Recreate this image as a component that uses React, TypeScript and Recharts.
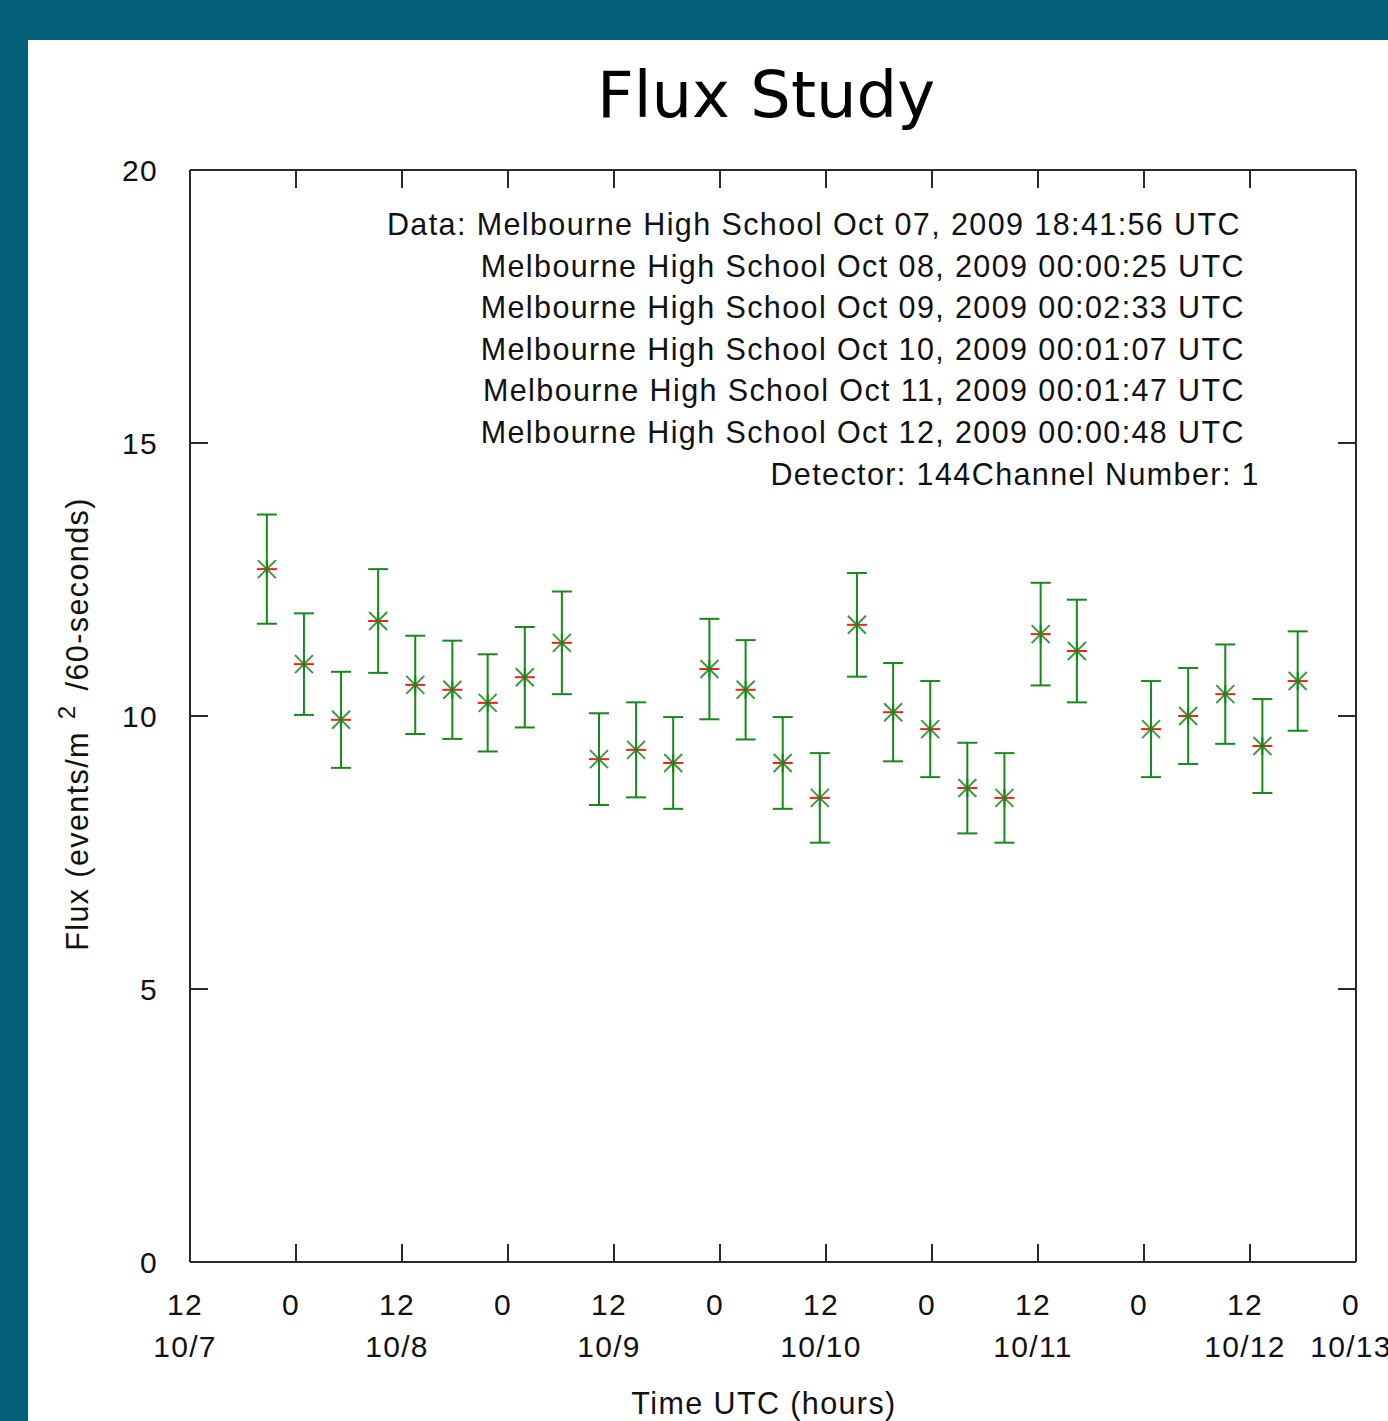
import React from 'react';
import { ComposedChart, Scatter, ErrorBar, XAxis, YAxis } from 'recharts';

// bin centres, hours after 10/7 12:00 UTC
const binHours = [
  8.7, 12.9, 17.1, 21.3, 25.5, 29.7, 33.7, 37.9, 42.1, 46.3, 50.5, 54.7, 58.8, 62.9,
  67.1, 71.3, 75.5, 79.6, 83.8, 88.0, 92.2, 96.3, 100.4, 108.8, 113.0, 117.2, 121.4, 125.4,
];
const fluxValues = [
  12.69, 10.95, 9.93, 11.74, 10.57, 10.48, 10.24, 10.71, 11.34, 9.21, 9.38, 9.14, 10.86, 10.48,
  9.14, 8.5, 11.67, 10.07, 9.76, 8.68, 8.5, 11.5, 11.19, 9.76, 10.0, 10.4, 9.45, 10.64,
];
const fluxErrors = [
  1.0, 0.93, 0.88, 0.95, 0.9, 0.9, 0.89, 0.92, 0.94, 0.84, 0.87, 0.84, 0.92, 0.91,
  0.84, 0.82, 0.95, 0.9, 0.88, 0.83, 0.82, 0.94, 0.94, 0.88, 0.88, 0.91, 0.86, 0.91,
];

const xTicks = [0, 12, 24, 36, 48, 60, 72, 84, 96, 108, 120, 132];
const hourLabels = ['12', '0', '12', '0', '12', '0', '12', '0', '12', '0', '12', '0'];
const dateLabels = ['10/7', '', '10/8', '', '10/9', '', '10/10', '', '10/11', '', '10/12', '10/13'];
const yTicks = [0, 5, 10, 15, 20];

const infoLines = [
  'Data: Melbourne High School Oct 07, 2009 18:41:56 UTC',
  'Melbourne High School Oct 08, 2009 00:00:25 UTC',
  'Melbourne High School Oct 09, 2009 00:02:33 UTC',
  'Melbourne High School Oct 10, 2009 00:01:07 UTC',
  'Melbourne High School Oct 11, 2009 00:01:47 UTC',
  'Melbourne High School Oct 12, 2009 00:00:48 UTC',
  'Detector: 144Channel Number: 1',
];

const points = binHours.map((t, i) => ({ t, flux: fluxValues[i], err: fluxErrors[i] }));

const FONT = "'Liberation Sans', Arial, sans-serif";
const GREEN = '#17881b';
const FRAME = '#2a2a2a';

const StarMark = (props: any) => {
  const { cx, cy } = props;
  if (cx == null || cy == null) return null;
  const a = 9;
  return (
    <g>
      <line x1={cx - 10} y1={cy} x2={cx + 10} y2={cy} stroke="#ff1a1a" strokeWidth={2} />
      <line x1={cx - a} y1={cy - a} x2={cx + a} y2={cy + a} stroke={GREEN} strokeWidth={2} strokeOpacity={0.85} />
      <line x1={cx - a} y1={cy + a} x2={cx + a} y2={cy - a} stroke={GREEN} strokeWidth={2} strokeOpacity={0.85} />
      <line x1={cx} y1={cy - a} x2={cx} y2={cy + a} stroke={GREEN} strokeWidth={2} />
    </g>
  );
};

const NoTick = () => <g />;

const XTick = (props: any) => {
  const { x, y, payload } = props;
  const i = xTicks.indexOf(payload.value);
  return (
    <g>
      <text x={x - 5} y={y + 53} textAnchor="middle" fontFamily={FONT} fontSize={30} letterSpacing={1.3} fill="#111">
        {hourLabels[i]}
      </text>
      {dateLabels[i] && (
        <text x={x - 5} y={y + 95} textAnchor="middle" fontFamily={FONT} fontSize={30} letterSpacing={1.3} fill="#111">
          {dateLabels[i]}
        </text>
      )}
    </g>
  );
};

const YTick = (props: any) => {
  const { x, y, payload } = props;
  return (
    <text x={x} y={y + 11} textAnchor="end" fontFamily={FONT} fontSize={30} letterSpacing={1.3} fill="#111">
      {payload.value}
    </text>
  );
};

export default function App() {
  return (
    <div style={{ position: 'absolute', left: 0, top: 0, width: 1388, height: 1421, background: '#05607a', overflow: 'hidden' }}>
      <div style={{ position: 'absolute', left: 28, top: 40, width: 1360, height: 1381, background: '#ffffff' }} />
      <div style={{ position: 'absolute', left: 0, top: 0 }}>
        <ComposedChart width={1388} height={1421} data={points} margin={{ top: 170, right: 32, left: 0, bottom: 0 }}>
          <XAxis
            xAxisId="b"
            dataKey="t"
            type="number"
            domain={[0, 132]}
            ticks={xTicks}
            allowDataOverflow
            orientation="bottom"
            height={159}
            axisLine={{ stroke: FRAME, strokeWidth: 2 }}
            tickLine={false}
            tickSize={0}
            tickMargin={0}
            tick={<XTick />}
            interval={0}
          />
          <XAxis
            xAxisId="bt"
            dataKey="t"
            type="number"
            domain={[0, 132]}
            ticks={xTicks}
            allowDataOverflow
            orientation="bottom"
            mirror
            height={18}
            axisLine={false}
            tickLine={{ stroke: FRAME, strokeWidth: 2 }}
            tickSize={18}
            tick={<NoTick />}
            interval={0}
          />
          <XAxis
            xAxisId="t"
            dataKey="t"
            type="number"
            domain={[0, 132]}
            ticks={xTicks}
            allowDataOverflow
            orientation="top"
            mirror
            height={18}
            axisLine={{ stroke: FRAME, strokeWidth: 2 }}
            tickLine={{ stroke: FRAME, strokeWidth: 2 }}
            tickSize={18}
            tick={<NoTick />}
            interval={0}
          />
          <YAxis
            yAxisId="l"
            type="number"
            domain={[0, 20]}
            ticks={yTicks}
            allowDataOverflow
            orientation="left"
            width={190}
            axisLine={{ stroke: FRAME, strokeWidth: 2 }}
            tickLine={false}
            tickSize={0}
            tickMargin={32}
            tick={<YTick />}
            interval={0}
          />
          <YAxis
            yAxisId="lt"
            type="number"
            domain={[0, 20]}
            ticks={yTicks}
            allowDataOverflow
            orientation="left"
            mirror
            width={18}
            axisLine={false}
            tickLine={{ stroke: FRAME, strokeWidth: 2 }}
            tickSize={18}
            tick={<NoTick />}
            interval={0}
          />
          <YAxis
            yAxisId="r"
            type="number"
            domain={[0, 20]}
            ticks={yTicks}
            allowDataOverflow
            orientation="right"
            mirror
            width={18}
            axisLine={{ stroke: FRAME, strokeWidth: 2 }}
            tickLine={{ stroke: FRAME, strokeWidth: 2 }}
            tickSize={18}
            tick={<NoTick />}
            interval={0}
          />
          <Scatter xAxisId="b" yAxisId="l" dataKey="flux" shape={<StarMark />} isAnimationActive={false}>
            <ErrorBar dataKey="err" direction="y" width={10} stroke={GREEN} strokeWidth={2} />
          </Scatter>
          <Scatter xAxisId="bt" yAxisId="lt" dataKey="flux" shape={<NoTick />} isAnimationActive={false} />
          <Scatter xAxisId="t" yAxisId="r" dataKey="flux" shape={<NoTick />} isAnimationActive={false} />
        </ComposedChart>
      </div>
      <svg width={1388} height={1421} style={{ position: 'absolute', left: 0, top: 0, pointerEvents: 'none' }}>
        <text x={766} y={117} textAnchor="middle" fontFamily="'DejaVu Sans', sans-serif" fontSize={64} fill="#000">
          Flux Study
        </text>
        {infoLines.map((line, i) => (
          <text
            key={line}
            x={i === 0 ? 1241 : i === infoLines.length - 1 ? 1260 : 1245}
            y={235 + i * 41.6}
            textAnchor="end"
            fontFamily={FONT}
            fontSize={30.5}
            letterSpacing={1.4}
            fill="#111"
          >
            {line}
          </text>
        ))}
        <text x={764} y={1414} textAnchor="middle" fontFamily={FONT} fontSize={30.5} letterSpacing={1.4} fill="#111">
          Time UTC (hours)
        </text>
        <g transform="translate(88,724) rotate(-90)">
          <text x={0} y={0} textAnchor="middle" fontFamily={FONT} fontSize={30.5} letterSpacing={1.4} fill="#111">
            Flux (events/m
            <tspan dx={12} dy={-13} fontSize={24}>2</tspan>
            <tspan dx={14} dy={13}>/60-seconds)</tspan>
          </text>
        </g>
      </svg>
    </div>
  );
}
